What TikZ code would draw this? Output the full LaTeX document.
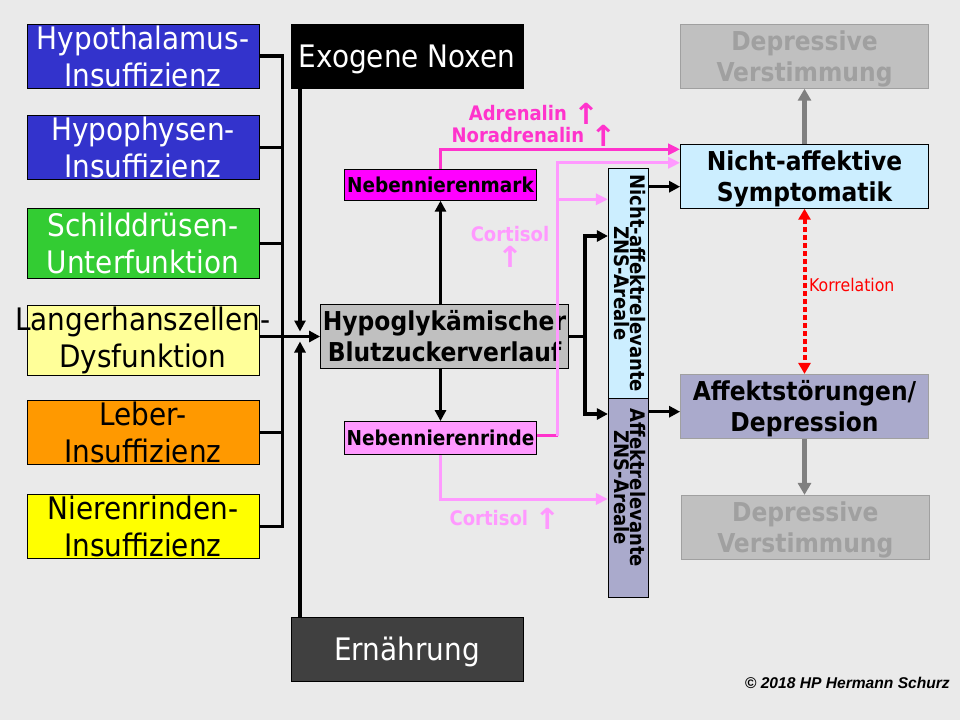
\documentclass[tikz,border=0pt]{standalone}
\usepackage{graphicx}
\usepackage{fontspec}
\IfFontExistsTF{DejaVu Sans Condensed}
  {\setmainfont{DejaVu Sans Condensed}}
  {\setmainfont{DejaVu Sans}}
\newfontfamily\arrowfont{DejaVu Sans}
\newfontfamily\copyfont{Liberation Sans}
\usetikzlibrary{arrows.meta,positioning,calc}
\definecolor{bggray}{RGB}{234,234,234}
\definecolor{hypblue}{RGB}{51,51,204}
\definecolor{thygreen}{RGB}{51,204,51}
\definecolor{paleyellow}{RGB}{255,255,153}
\definecolor{liverorange}{RGB}{255,153,0}
\definecolor{kidneyyellow}{RGB}{255,255,0}
\definecolor{nutrigray}{RGB}{64,64,64}
\definecolor{sugargray}{RGB}{192,192,192}
\definecolor{nnmmagenta}{RGB}{255,0,255}
\definecolor{nnrpink}{RGB}{255,153,255}
\definecolor{adrpink}{RGB}{255,51,204}
\definecolor{cortpink}{RGB}{255,153,255}
\definecolor{skyblue}{RGB}{204,238,255}
\definecolor{lavender}{RGB}{170,170,204}
\definecolor{fadegray}{RGB}{160,160,160}
\definecolor{arrowgray}{RGB}{128,128,128}
\definecolor{corrred}{RGB}{255,0,0}
\newcommand{\hormup}{{\arrowfont\bfseries\raisebox{-4pt}{\scalebox{1.55}[1.45]{↑}}}}

\begin{document}
\begin{tikzpicture}[x=1pt, y=-1pt,
  cause/.style={draw, line width=0.8pt, minimum width=232pt, minimum height=64pt,
                inner sep=0pt, align=center, font=\fontsize{31}{37}\selectfont},
  organ/.style={draw, line width=0.8pt, minimum width=192pt, minimum height=31pt,
                inner sep=0pt, font=\fontsize{20.5}{24}\selectfont\bfseries},
  result/.style={draw, line width=0.8pt, minimum width=248pt, minimum height=64pt,
                 inner sep=0pt, align=center, text depth=0pt,
                 font=\fontsize{26}{31}\selectfont\bfseries},
  faded/.style={result, draw=fadegray, fill=sugargray, text=fadegray},
  zns/.style={draw, line width=0.8pt, minimum width=40pt, inner sep=0pt},
  znstext/.style={rotate=-90, align=center, inner sep=0pt,
                  font=\fontsize{20}{16}\selectfont\bfseries},
  hormone/.style={inner sep=0pt, align=center, font=\fontsize{20}{22}\selectfont\bfseries},
  conn/.style={line width=3.5pt},
  arr/.style={conn, -{Triangle[length=11pt,width=11pt]}},
  adrarr/.style={line width=3pt, draw=adrpink, -{Triangle[length=12pt,width=11pt]}},
  cortarr/.style={line width=3pt, draw=cortpink, -{Triangle[length=12pt,width=11pt]}},
  grayarr/.style={line width=4.5pt, draw=arrowgray, -{Triangle[length=12pt,width=13pt]}},
  corr/.style={line width=4pt, draw=corrred, dash pattern=on 5pt off 3pt,
               {Triangle[length=11pt,width=12pt]}-{Triangle[length=11pt,width=12pt]}}
]
\fill[bggray] (0,0) rectangle (960,720);
\useasboundingbox (0,0) rectangle (960,720);

% Ursachen links
\node[cause, fill=hypblue, text=white] (hypoth) at (143,56) {Hypothalamus-\\Insuffizienz};
\node[cause, fill=hypblue, text=white] (hypoph) at (143,147.5) {Hypophysen-\\Insuffizienz};
\node[cause, fill=thygreen, text=white, minimum height=70pt] (thyro) at (143,243.5) {Schilddrüsen-\\Unterfunktion};
\node[cause, fill=paleyellow, minimum height=70pt] (langer) at (143,340.5) {\makebox[0pt]{Langerhanszellen-}\\Dysfunktion};
\node[cause, fill=liverorange] (liver) at (143,432.3) {Leber-\\Insuffizienz};
\node[cause, fill=kidneyyellow] (kidney) at (143,526.3) {Nierenrinden-\\Insuffizienz};
\node[cause, fill=black, text=white, text depth=0pt] (noxen) at (407,56) {Exogene Noxen};
\node[cause, fill=nutrigray, text=white, text depth=0pt] (diet) at (407,649) {Ernährung};

% Mitte
\node[cause, fill=sugargray, minimum width=248pt,
      font=\fontsize{26}{31}\selectfont\bfseries] (sugar) at (444.5,336.5) {Hypoglykämischer\\Blutzuckerverlauf};
\node[organ, fill=nnmmagenta] (medulla) at (440.5,184.8) {Nebennierenmark};
\node[organ, fill=nnrpink, minimum height=33pt] (cortex) at (440.5,438) {Nebennierenrinde};
\node[hormone, text=adrpink, font=\fontsize{20}{19.5}\selectfont\bfseries] (adr) at (534,125) {Adrenalin \hormup\\Noradrenalin \hormup};
\node[hormone, text=cortpink] (cortup) at (510,247) {Cortisol\\\hormup};
\node[hormone, text=cortpink] (cortlow) at (505,519) {Cortisol \hormup};

% ZNS-Areale
\node[zns, fill=skyblue, minimum height=230pt,
      label={[xshift=2pt, znstext]center:Nicht-affektrelevante\\ZNS-Areale}] (znsA) at (628.3,283.3) {};
\node[zns, fill=lavender, minimum height=199pt,
      label={[xshift=2pt, yshift=10pt, znstext]center:Affektrelevante\\ZNS-Areale}] (znsB) at (628.3,497.8) {};

% rechts
\node[faded] (deptop) at (804.5,56.3) {Depressive\\Verstimmung};
\node[result, fill=skyblue] (nonaff) at (804.5,176.3) {Nicht-affektive\\Symptomatik};
\node[result, fill=lavender, draw=fadegray] (affect) at (804.5,406.3) {Affektstörungen/\\Depression};
\node[faded] (depbot) at (805.3,527.3) {Depressive\\Verstimmung};
\node[font=\fontsize{17.5}{20}\selectfont, text=corrred, anchor=west, inner sep=0pt] (corrlabel) at (809,285) {Korrelation};
\node[font=\copyfont\bfseries\itshape\fontsize{15.6}{18}\selectfont, anchor=east, inner sep=0pt] (copyright) at (950,683) {© 2018 HP Hermann Schurz};

% Sammelleitung links
\draw[conn] (hypoth.east) -- ++(23,0) |- (kidney.east);
\foreach \src in {hypoph,thyro,liver}
  \draw[conn] (\src.east) -- ++(23,0);
\draw[arr] (langer.east |- sugar.west) -- (sugar.west);
\coordinate (junction) at (300,336.5);
\draw[arr] (noxen.south -| junction) -- ([yshift=5pt]junction);
\draw[arr] (diet.north -| junction) -- ([yshift=-5pt]junction);

% Nebenniere
\draw[arr] (sugar.north -| medulla) -- (medulla.south);
\draw[arr] (sugar.south -| cortex) -- (cortex.north);
\draw[adrarr] (medulla.north) |- ([yshift=27pt]nonaff.west);
\coordinate (cortbus) at (557.7,435.7);
\coordinate (cortfork) at (557.7,199.3);
\draw[line width=3pt, adrpink] (cortex.east |- cortbus) -- (cortbus);
\draw[cortarr] (cortbus) |- ([yshift=13.5pt]nonaff.west);
\draw[cortarr] (cortfork) -- (znsA.west |- cortfork);
\draw[cortarr] (cortex.south) |- (znsB.west |- 0,499);

% Blutzucker zu ZNS
\coordinate (znsbus) at (585,336.5);
\draw[conn] (sugar.east) -- (znsbus);
\draw[arr] (znsbus) |- (znsA.west |- 0,236);
\draw[arr] (znsbus) |- (znsB.west |- 0,414);
\draw[arr] (znsA.east |- 0,186.7) -- (nonaff.west |- 0,186.7);
\draw[arr] (znsB.east |- 0,411.7) -- (affect.west |- 0,411.7);

% Folgen
\draw[grayarr] (nonaff.north) -- (deptop.south);
\draw[grayarr] (affect.south) -- (affect.south |- depbot.north);
\draw[corr] (nonaff.south) -- (affect.north);
\end{tikzpicture}
\end{document}
